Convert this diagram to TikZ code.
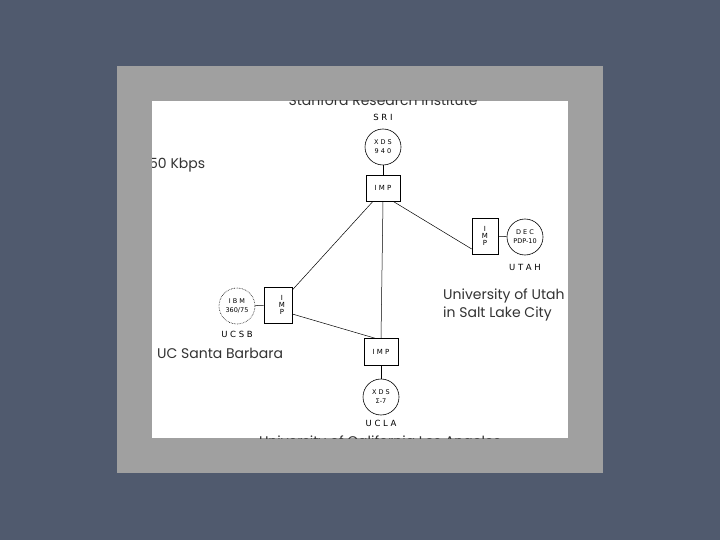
\documentclass[tikz,border=0pt]{standalone}
\usepackage{fontspec}
\setmainfont{Poppins}
\newfontfamily\labfont{DejaVu Sans}
\definecolor{slatebg}{RGB}{80,90,110}
\definecolor{framegray}{RGB}{160,160,160}
\begin{document}
\begin{tikzpicture}[x=1pt,y=-1pt,
  host/.style={draw,circle,minimum size=36pt,inner sep=0pt,line width=0.6pt,font=\labfont\fontsize{6.5}{8}\selectfont,align=center},
  impbox/.style={draw,rectangle,inner sep=0pt,line width=0.6pt,font=\labfont\fontsize{7}{8}\selectfont,align=center},
  site/.style={font=\labfont\fontsize{8.5}{9}\selectfont},
  big/.style={font=\fontsize{14}{17}\selectfont,align=left,text=black!80,inner sep=0pt},
  link/.style={line width=0.5pt}]
\useasboundingbox (0,0) rectangle (720,540);
\fill[slatebg] (0,0) rectangle (720,540);
\fill[framegray] (117,66) rectangle (603,473);
\fill[white] (152,101) rectangle (568,438);
\begin{scope}
\clip (152,101) rectangle (568,438);
\node[big,anchor=base] (srititle) at (383,106) {Stanford Research Institute};
\node[big,anchor=base] (uclatitle) at (380,446) {University of California Los Angeles};
\node[big,anchor=base west] (kbps) at (149,169) {50 Kbps};
\node[big,anchor=base west] (utahname) at (443,299) {University of Utah};
\node[big,anchor=base west] (utahcity) at (443,317) {in Salt Lake City};
\end{scope}
% SRI
\node[site] (sri) at (383,117) {S R I};
\node[host] (srihost) at (383,147) {X D S\\[1pt]9 4 0};
\node[impbox,minimum width=34pt,minimum height=26pt] (sriimp) at (383,188) {I M P};
% UTAH
\node[impbox,minimum width=26pt,minimum height=36pt] (utahimp) at (485,236) {I\\[-1pt]M\\[-1pt]P};
\node[host] (utahhost) at (525,237) {D E C\\[1pt]PDP-10};
\node[site] (utah) at (525,267) {U T A H};
% UCSB
\node[impbox,minimum width=28pt,minimum height=36pt] (ucsbimp) at (278,305) {\hspace*{8pt}I\\[-1pt]\hspace*{8pt}M\\[-1pt]\hspace*{8pt}P};
\node[host,densely dotted] (ucsbhost) at (237,306) {I B M\\[1pt]360/75};
\node[site] (ucsb) at (237,334) {U C S B};
\node[big,anchor=base west] (ucsbname) at (157,358) {UC Santa Barbara};
% UCLA
\node[impbox,minimum width=34pt,minimum height=27pt] (uclaimp) at (381,352) {I M P};
\node[host] (uclahost) at (381,397) {X D S\\[1pt]Σ-7};
\node[site] (ucla) at (381,423) {U C L A};
% links
\draw[link] (srihost) -- (sriimp);
\draw[link] ([xshift=-10pt]sriimp.south) -- ([yshift=15pt]ucsbimp.east);
\draw[link] (sriimp.south) -- (uclaimp.north);
\draw[link] ([xshift=10pt]sriimp.south) -- ([yshift=-13pt]utahimp.west);
\draw[link] ([yshift=-9pt]ucsbimp.east) -- ([xshift=-6pt]uclaimp.north);
\draw[link] (ucsbhost) -- (ucsbimp);
\draw[link] (utahimp) -- (utahhost);
\draw[link] (uclaimp) -- (uclahost);
\end{tikzpicture}
\end{document}
